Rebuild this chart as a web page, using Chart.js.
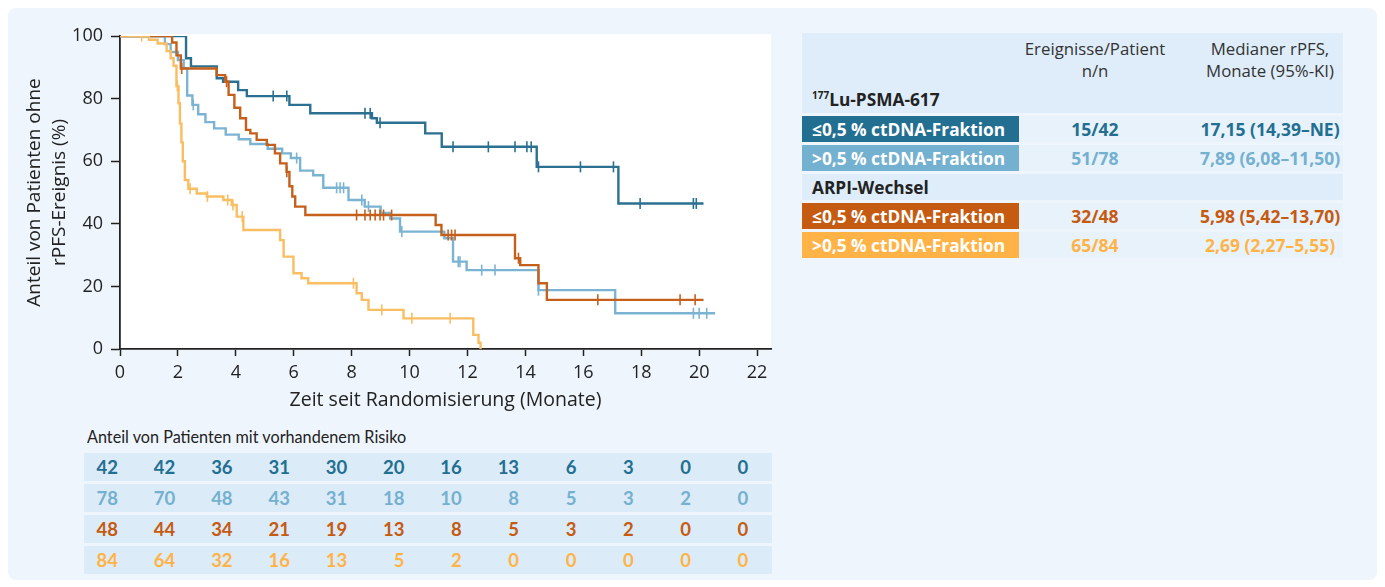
<!DOCTYPE html>
<html>
<head>
<meta charset="utf-8">
<script src="https://cdn.jsdelivr.net/npm/chart.js@4"></script>
<style>
  body { margin: 0; background: #fff; font-family: "Open Sans", sans-serif; }
  #panel { position: absolute; left: 8px; top: 8px; width: 1369px; height: 572px;
           background: #eef5fc; border-radius: 8px; }
  #wrap { position: absolute; left: 0; top: 0; width: 790px; height: 420px; }
  #riskTitle { position: absolute; left: 87px; top: 425px; font-size: 18px; color: #222;
               font-family: Lato, sans-serif; white-space: nowrap;
               transform: scaleX(0.9); transform-origin: left top; }
  #risk { position: absolute; left: 84px; top: 453px; width: 688px; }
  .rrow { position: relative; height: 28px; background: #dcebf8; margin-bottom: 3px; }
  .rrow span { position: absolute; top: 0; width: 50px; text-align: right; line-height: 28px;
               font-family: Lato, sans-serif; font-weight: bold; font-size: 18.5px; }
  #tbl { position: absolute; left: 802px; top: 33px; width: 541px; font-size: 16.8px; color: #333; }
  .row { display: flex; margin-bottom: 3px; height: 26px; align-items: center; }
  .c1 { width: 217px; box-sizing: border-box; padding-left: 10px; height: 100%;
        display: flex; align-items: center; font-weight: bold; font-size: 17.3px; }
  .c2 { width: 152px; text-align: center; font-weight: bold; font-size: 17.5px; }
  .c3 { width: 172px; box-sizing: border-box; padding-left: 26px; text-align: center;
        font-weight: bold; font-size: 17.5px; white-space: nowrap; }
  .data { background: #e8f2fb; }
  .data .c1 { color: #fff; }
  .sect { background: #deedf9; }
</style>
</head>
<body>
<div id="panel"></div>
<div id="wrap"><canvas id="km" width="790" height="420"></canvas></div>
<div id="riskTitle">Anteil von Patienten mit vorhandenem Risiko</div>
<div id="risk"></div>
<div id="tbl"></div>
<script>
// Kaplan-Meier Stufen (Zeit in Monaten, Anteil in %)
var luLowT  = [0, 2.28, 2.45, 3.34, 3.56, 4.08, 4.38, 5.85, 6.57, 8.7, 8.87, 10.54, 11.11, 14.39, 17.21, 20.15];
var luLowS  = [100, 92.9, 90.3, 86.5, 85.4, 82.7, 80.8, 78, 75.3, 73.7, 72.3, 68.9, 64.6, 58.2, 46.5, 46.5];
var luLowC  = [5.29, 5.76, 8.46, 8.64, 8.98, 11.5, 12.72, 13.64, 14.05, 14.2, 14.45, 15.9, 17.04, 17.96, 19.8, 19.9];

var luHighT = [0, 1.55, 1.75, 2.0, 2.2, 2.32, 2.5, 2.7, 2.95, 3.25, 3.65, 4.1, 4.5, 5.1, 5.6, 5.9, 6.22, 6.67, 7.02, 7.89, 8.45, 9.0, 9.33, 9.67, 11.2, 11.5, 11.97, 14.45, 17.1, 20.55];
var luHighS = [100, 97.4, 94.9, 92.3, 89.7, 81, 78, 75, 72.5, 70.5, 68.5, 67, 65.5, 64, 62.5, 61, 57, 55.5, 51.5, 47.6, 45.5, 43.5, 41.7, 37.5, 35.4, 27.9, 25.2, 18.8, 11.4, 11.4];
var luHighC = [2.53, 6.1, 7.48, 7.6, 7.72, 8.35, 8.58, 9.73, 11.68, 11.74, 12.49, 12.95, 14.45, 19.8, 20.0, 20.26];

var arpiLowT = [0, 1.8, 1.95, 2.1, 3.34, 3.63, 3.75, 3.95, 4.15, 4.35, 4.5, 4.72, 5.07, 5.35, 5.53, 5.75, 5.85, 5.95, 6.05, 6.4, 10.9, 11.1, 13.64, 13.82, 14.45, 14.74, 20.15];
var arpiLowS = [100, 97.9, 93.8, 89.6, 87.5, 85.4, 81.2, 77.1, 73.7, 70, 68.9, 66.8, 65.2, 62.5, 59.3, 56.6, 52, 48.7, 45.5, 42.8, 39.6, 36.4, 29, 26.8, 21, 15.7, 15.7];
var arpiLowC = [2.13, 3.68, 5.76, 8.17, 8.46, 8.64, 8.81, 8.98, 9.1, 9.38, 11.33, 11.45, 11.57, 13.76, 16.5, 19.34, 19.86];

var arpiHighT = [0, 1.0, 1.3, 1.61, 1.75, 1.85, 1.95, 2.02, 2.07, 2.12, 2.17, 2.24, 2.36, 2.65, 3.0, 3.57, 3.86, 4.03, 4.26, 5.53, 5.65, 5.99, 6.27, 6.5, 8.17, 8.35, 8.58, 9.79, 12.2, 12.38, 12.45];
var arpiHighS = [100, 98.8, 97.6, 95.2, 92.9, 90.5, 84, 78.5, 72, 66, 60, 54, 51.2, 49.7, 48.7, 47.6, 46, 42.3, 38, 34.8, 29.5, 24.2, 22.6, 21, 17.8, 15.7, 12.5, 9.8, 4.5, 2, 0];
var arpiHighC = [0.75, 1.98, 2.42, 3.02, 3.72, 3.9, 4.22, 8.06, 9.04, 10.08, 11.4];

var xTicks = [0, 2, 4, 6, 8, 10, 12, 14, 16, 18, 20, 22];

var colors = ["#2b7090", "#7bb3d2", "#c5601c", "#f9bd62"];
var labelColors = ["#236f91", "#74b0cf", "#c55a11", "#ffb347"];
var groupLabels = ["≤0,5 % ctDNA-Fraktion", ">0,5 % ctDNA-Fraktion", "≤0,5 % ctDNA-Fraktion", ">0,5 % ctDNA-Fraktion"];
var events = ["15/42", "51/78", "32/48", "65/84"];
var medians = ["17,15 (14,39–NE)", "7,89 (6,08–11,50)", "5,98 (5,42–13,70)", "2,69 (2,27–5,55)"];

var riskLuLow    = [42, 42, 36, 31, 30, 20, 16, 13, 6, 3, 0, 0];
var riskLuHigh   = [78, 70, 48, 43, 31, 18, 10, 8, 5, 3, 2, 0];
var riskArpiLow  = [48, 44, 34, 21, 19, 13, 8, 5, 3, 2, 0, 0];
var riskArpiHigh = [84, 64, 32, 16, 13, 5, 2, 0, 0, 0, 0, 0];

function stepPoints(t, s) {
  return t.map(function (v, i) { return { x: v, y: s[i] }; });
}
function valueAt(t, s, x) {
  var v = s[0];
  for (var i = 0; i < t.length; i++) { if (t[i] <= x) v = s[i]; }
  return v;
}
function censorPoints(t, s, c) {
  return c.map(function (x) { return { x: x, y: valueAt(t, s, x) }; });
}

var series = [
  [luLowT, luLowS, luLowC],
  [luHighT, luHighS, luHighC],
  [arpiLowT, arpiLowS, arpiLowC],
  [arpiHighT, arpiHighS, arpiHighC]
];
var datasets = [];
// von hinten nach vorne, dunkelblau oben
[3, 2, 1, 0].forEach(function (k) {
  var d = series[k];
  datasets.push({
    data: stepPoints(d[0], d[1]), showLine: true, stepped: true,
    borderColor: colors[k], borderWidth: 2.4, pointRadius: 0, fill: false
  });
  datasets.push({
    data: censorPoints(d[0], d[1], d[2]), showLine: false,
    pointStyle: "line", rotation: 90, pointRadius: 5.5,
    borderColor: colors[k], pointBorderWidth: 1.6, pointBackgroundColor: colors[k]
  });
});

var whiteArea = {
  id: "whiteArea",
  beforeDraw: function (chart) {
    var a = chart.chartArea, ctx = chart.ctx;
    ctx.save();
    ctx.fillStyle = "#ffffff";
    ctx.fillRect(a.left, a.top - 2, a.right - a.left, a.bottom - a.top + 2);
    ctx.restore();
  }
};

new Chart(document.getElementById("km"), {
  type: "scatter",
  data: { datasets: datasets },
  plugins: [whiteArea],
  options: {
    responsive: false, animation: false,
    layout: { padding: { left: 0, top: 36, right: 19, bottom: 0 } },
    plugins: { legend: { display: false }, tooltip: { enabled: false } },
    scales: {
      x: {
        type: "linear", min: 0, max: 22.48,
        afterFit: function (s) { s.height = 71; },
        afterBuildTicks: function (s) { s.ticks = xTicks.map(function (v) { return { value: v }; }); },
        ticks: { padding: 6, color: "#222", font: { family: "Open Sans", size: 18 }, maxRotation: 0 },
        grid: { drawOnChartArea: false, drawTicks: true, tickLength: 7, tickColor: "#222", tickWidth: 1.5 },
        border: { color: "#222", width: 1.8 },
        title: { display: true, text: "Zeit seit Randomisierung (Monate)", color: "#222",
                 font: { family: "Open Sans", size: 19.5, lineHeight: 1.2 }, padding: { bottom: 8, top: 0 } }
      },
      y: {
        min: 0, max: 100,
        afterFit: function (s) { s.width = 120; },
        ticks: { stepSize: 20, padding: 8, color: "#222", font: { family: "Open Sans", size: 18 } },
        grid: { drawOnChartArea: false, drawTicks: true, tickLength: 9, tickColor: "#222", tickWidth: 1.5 },
        border: { color: "#222", width: 1.8 },
        title: { display: true, text: ["Anteil von Patienten ohne", "rPFS-Ereignis (%)"], color: "#222",
                 font: { family: "Open Sans", size: 19, lineHeight: 1.32 }, padding: { top: 22, bottom: 0 } }
      }
    }
  }
});

// Risikotabelle
var riskRows = [riskLuLow, riskLuHigh, riskArpiLow, riskArpiHigh];
var risk = document.getElementById("risk");
riskRows.forEach(function (r, k) {
  var row = document.createElement("div");
  row.className = "rrow";
  r.forEach(function (v, i) {
    var sp = document.createElement("span");
    sp.textContent = v;
    sp.style.left = (34 + 57.3 * i - 50) + "px";
    sp.style.color = labelColors[k];
    row.appendChild(sp);
  });
  risk.appendChild(row);
});

// Tabelle rechts
var tbl = document.getElementById("tbl");
var html = '<div class="sect" style="height:53px;display:flex;align-items:center;">' +
  '<div style="width:217px"></div>' +
  '<div style="width:152px;text-align:center;line-height:22px;white-space:nowrap;">Ereignisse/Patient<br>n/n</div>' +
  '<div style="width:172px;box-sizing:border-box;padding-left:26px;text-align:center;line-height:22px;white-space:nowrap;">Medianer rPFS,<br>Monate (95%-KI)</div></div>' +
  '<div class="sect row" style="height:27px;"><div class="c1" style="color:#222"><span><sup style="font-size:10px">177</sup>Lu-PSMA-617</span></div></div>';
for (var k = 0; k < 4; k++) {
  if (k === 2) {
    html += '<div class="sect row"><div class="c1" style="color:#222">ARPI-Wechsel</div></div>';
  }
  html += '<div class="data row"><div class="c1" style="background:' + labelColors[k] + '">' + groupLabels[k] + '</div>' +
    '<div class="c2" style="color:' + labelColors[k] + '">' + events[k] + '</div>' +
    '<div class="c3" style="color:' + labelColors[k] + '">' + medians[k] + '</div></div>';
}
tbl.innerHTML = html;
</script>
</body>
</html>
